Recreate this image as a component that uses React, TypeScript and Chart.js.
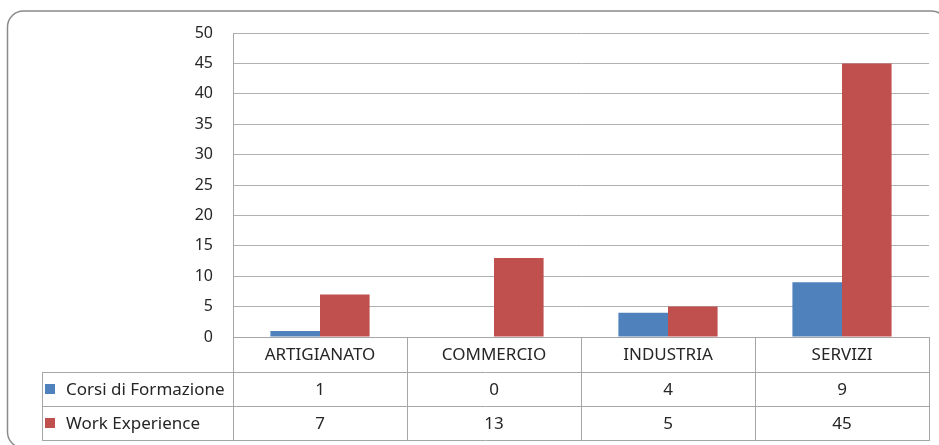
import React, { useEffect, useRef } from 'react';
import { Chart, registerables } from 'chart.js';

Chart.register(...registerables);

const categories = ['ARTIGIANATO', 'COMMERCIO', 'INDUSTRIA', 'SERVIZI'];
const seriesNames = ['Corsi di Formazione', 'Work Experience'];
const corsiValues = [1, 0, 4, 9];
const workValues = [7, 13, 5, 45];
const seriesColors = ['#4F81BD', '#C0504D'];
const yTicks = [0, 5, 10, 15, 20, 25, 30, 35, 40, 45, 50];

const W = 939;
const H = 445;
const FONT = '"Noto Sans", sans-serif';

const framePlugin = {
  id: 'frame',
  beforeDraw(chart: any) {
    const ctx = chart.ctx;
    ctx.save();
    ctx.fillStyle = '#ffffff';
    ctx.fillRect(0, 0, W, H);
    ctx.strokeStyle = '#8a8a8a';
    ctx.lineWidth = 1.5;
    ctx.beginPath();
    (ctx as any).roundRect(7.5, 11, 940, 437, 16);
    ctx.stroke();
    ctx.restore();
  },
};

const tablePlugin = {
  id: 'dataTable',
  afterDraw(chart: any) {
    const ctx = chart.ctx;
    const area = chart.chartArea;
    const xs = chart.scales.x;
    const n = categories.length;
    const cw = (area.right - area.left) / n;
    const tableLeft = 42;
    const rows = [area.bottom, area.bottom + 35, area.bottom + 68.5, area.bottom + 103];
    ctx.save();
    ctx.strokeStyle = '#a6a6a6';
    ctx.lineWidth = 1;
    ctx.beginPath();
    ctx.moveTo(area.left, Math.round(rows[0]) + 0.5);
    ctx.lineTo(area.right, Math.round(rows[0]) + 0.5);
    for (let r = 1; r < rows.length; r++) {
      const y = Math.round(rows[r]) + 0.5;
      ctx.moveTo(tableLeft, y);
      ctx.lineTo(area.right, y);
    }
    ctx.moveTo(tableLeft + 0.5, Math.round(rows[1]));
    ctx.lineTo(tableLeft + 0.5, Math.round(rows[3]) + 1);
    for (let i = 0; i <= n; i++) {
      const x = Math.round(area.left + i * cw) + 0.5;
      ctx.moveTo(x, Math.round(rows[0]));
      ctx.lineTo(x, Math.round(rows[3]) + 1);
    }
    ctx.stroke();

    ctx.fillStyle = '#262626';
    ctx.font = '17px ' + FONT;
    ctx.textAlign = 'center';
    ctx.textBaseline = 'middle';
    const seriesData = [corsiValues, workValues];
    for (let i = 0; i < n; i++) {
      const cx = xs.getPixelForValue(i);
      ctx.fillText(categories[i], cx, (rows[0] + rows[1]) / 2 + 1);
      for (let s = 0; s < seriesData.length; s++) {
        ctx.fillText(String(seriesData[s][i]), cx, (rows[s + 1] + rows[s + 2]) / 2 + 1);
      }
    }
    ctx.textAlign = 'left';
    for (let s = 0; s < seriesNames.length; s++) {
      const cy = (rows[s + 1] + rows[s + 2]) / 2;
      ctx.fillStyle = seriesColors[s];
      ctx.fillRect(45, Math.round(cy - 5), 10, 10);
      ctx.fillStyle = '#262626';
      ctx.fillText(seriesNames[s], 66, cy + 1);
    }
    ctx.restore();
  },
};

export default function App() {
  const ref = useRef<HTMLCanvasElement | null>(null);
  useEffect(() => {
    document.body.style.margin = '0';
    const canvas = ref.current;
    if (!canvas) return;
    const chart = new Chart(canvas, {
      type: 'bar',
      data: {
        labels: categories,
        datasets: [
          { label: seriesNames[0], data: corsiValues, backgroundColor: seriesColors[0], borderWidth: 0 },
          { label: seriesNames[1], data: workValues, backgroundColor: seriesColors[1], borderWidth: 0 },
        ],
      },
      options: {
        responsive: false,
        animation: false,
        devicePixelRatio: 1,
        layout: { padding: { top: 33, right: 10, bottom: 108, left: 0 } },
        plugins: { legend: { display: false }, tooltip: { enabled: false } },
        datasets: { bar: { categoryPercentage: 0.57, barPercentage: 1 } },
        scales: {
          x: { display: false },
          y: {
            min: 0,
            max: 50,
            afterBuildTicks: (scale: any) => {
              scale.ticks = yTicks.map((v) => ({ value: v }));
            },
            afterFit: (scale: any) => {
              scale.width = 233;
            },
            grid: { color: '#b0b0b0', drawTicks: false, lineWidth: 1 },
            border: { display: true, color: '#a6a6a6' },
            ticks: {
              padding: 20,
              color: '#262626',
              font: { family: FONT, size: 16 },
            },
          },
        },
      },
      plugins: [framePlugin, tablePlugin],
    });
    return () => chart.destroy();
  }, []);
  return (
    <div style={{ position: 'absolute', left: 0, top: 0, width: W, height: H }}>
      <canvas ref={ref} width={W} height={H} />
    </div>
  );
}
